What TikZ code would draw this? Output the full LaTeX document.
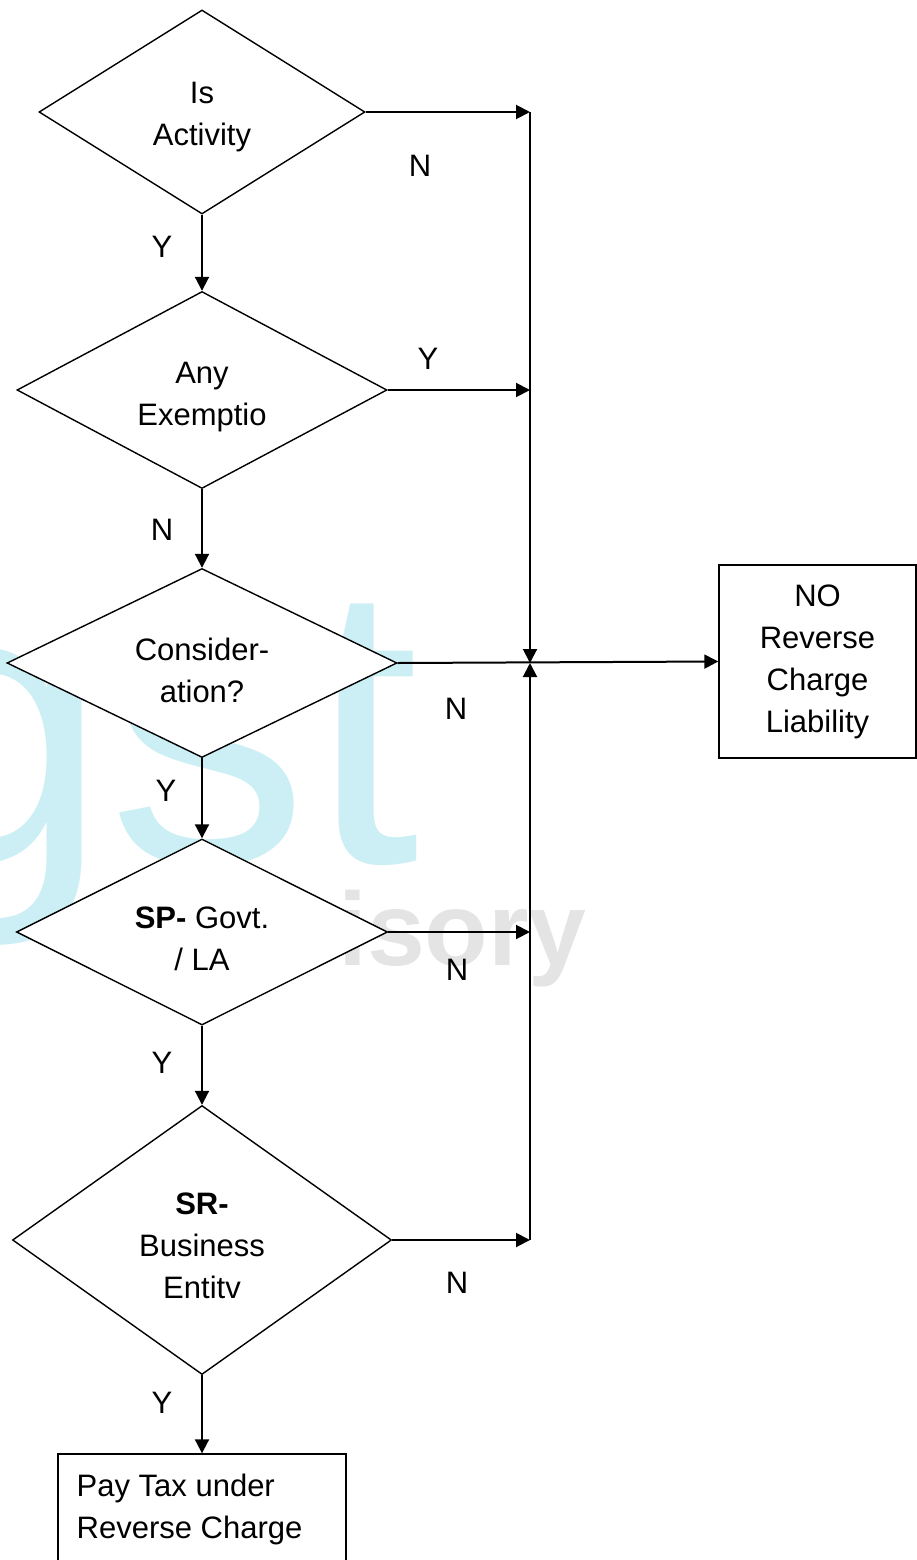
\documentclass[tikz,border=0pt]{standalone}
\usepackage{fontspec}
\setmainfont{Liberation Sans}
\usetikzlibrary{shapes.geometric,arrows.meta}
\definecolor{wmcyan}{RGB}{204,239,245}
\definecolor{wmgray}{RGB}{228,228,228}
\tikzset{
  dec/.style={diamond, draw=black, line width=1.4pt, fill=white, inner sep=0pt, aspect=1},
  conn/.style={draw=black, line width=2pt, -{Triangle[length=14pt,width=14pt]}},
  txt/.style={inner sep=0pt, align=center, font=\fontsize{31}{42}\selectfont},
  lbl/.style={inner sep=0pt, font=\fontsize{31}{42}\selectfont},
  boxnode/.style={rectangle, draw=black, line width=1.4pt, fill=white, inner sep=0pt, align=center, font=\fontsize{31}{42}\selectfont}
}
\begin{document}
\begin{tikzpicture}[x=1pt,y=-1pt]
\useasboundingbox (0,0) rectangle (917,1560);
\clip (0,0) rectangle (917,1560);
% watermark
\node[anchor=base west, inner sep=0pt, text=wmcyan, font=\fontsize{400}{400}\selectfont] (wmgst) at (-114,862) {gst};
\node[anchor=base west, inner sep=0pt, text=wmgray, font=\bfseries\fontsize{104}{104}\selectfont] (wmadv) at (338,965) {isory};
% decisions
\node[dec, minimum width=326pt, minimum height=204pt] (d1) at (202,112) {};
\node[dec, minimum width=370pt, minimum height=197pt] (d2) at (202,390) {};
\node[dec, minimum width=390pt, minimum height=189pt] (d3) at (202,663) {};
\node[dec, minimum width=371pt, minimum height=186pt] (d4) at (202,932) {};
\node[dec, minimum width=379pt, minimum height=269pt] (d5) at (202,1240) {};
% texts in decisions
\node[txt] (t1) at (202,116) {\strut Is\\\strut Activity};
\node[txt] (t2) at (202,396) {\strut Any\\\strut Exemptio};
\node[txt] (t3) at (202,673) {\strut Consider-\\\strut ation?};
\node[txt] (t4) at (202,941) {\strut\textbf{SP-} Govt.\\\strut / LA};
\node[txt] (t5) at (202,1248) {\strut\textbf{SR-}\\\strut Business\\\strut Entitv};
% result boxes
\node[boxnode, minimum width=197pt, minimum height=193pt] (nobox) at (817.5,661.5) {\strut NO\\\strut Reverse\\\strut Charge\\\strut Liability};
\node[boxnode, minimum width=288pt, minimum height=130pt] (paybox) at (202,1519) {};
\node[txt, anchor=west, align=left] (paytxt) at (76.5,1508.6) {\strut Pay Tax under\\\strut Reverse Charge};
% bus
\coordinate (bustop) at (530,112);
\coordinate (busbot) at (530,1240);
\coordinate (junc) at (530,663);
% connectors
\draw[conn] (d1.south) -- (d2.north);
\draw[conn] (d2.south) -- (d3.north);
\draw[conn] (d3.south) -- (d4.north);
\draw[conn] (d4.south) -- (d5.north);
\draw[conn] (d5.south) -- (paybox.north);
\draw[conn] (d1.east) -- (bustop);
\draw[conn] (d2.east) -- (d2.east -| junc);
\draw[conn] (d4.east) -- (d4.east -| junc);
\draw[conn] (d5.east) -- (busbot);
\draw[conn] (bustop) -- (junc);
\draw[conn] (busbot) -- (junc);
\draw[conn] (d3.east) -- (nobox.west);
% labels
\node[lbl] (l1n) at (420,166) {N};
\node[lbl] (l1y) at (162,247) {Y};
\node[lbl] (l2y) at (428,359) {Y};
\node[lbl] (l2n) at (162,530) {N};
\node[lbl] (l3n) at (456,709) {N};
\node[lbl] (l3y) at (166,791) {Y};
\node[lbl] (l4n) at (457,970) {N};
\node[lbl] (l4y) at (162,1063) {Y};
\node[lbl] (l5n) at (457,1283) {N};
\node[lbl] (l5y) at (162,1403) {Y};
\end{tikzpicture}
\end{document}
